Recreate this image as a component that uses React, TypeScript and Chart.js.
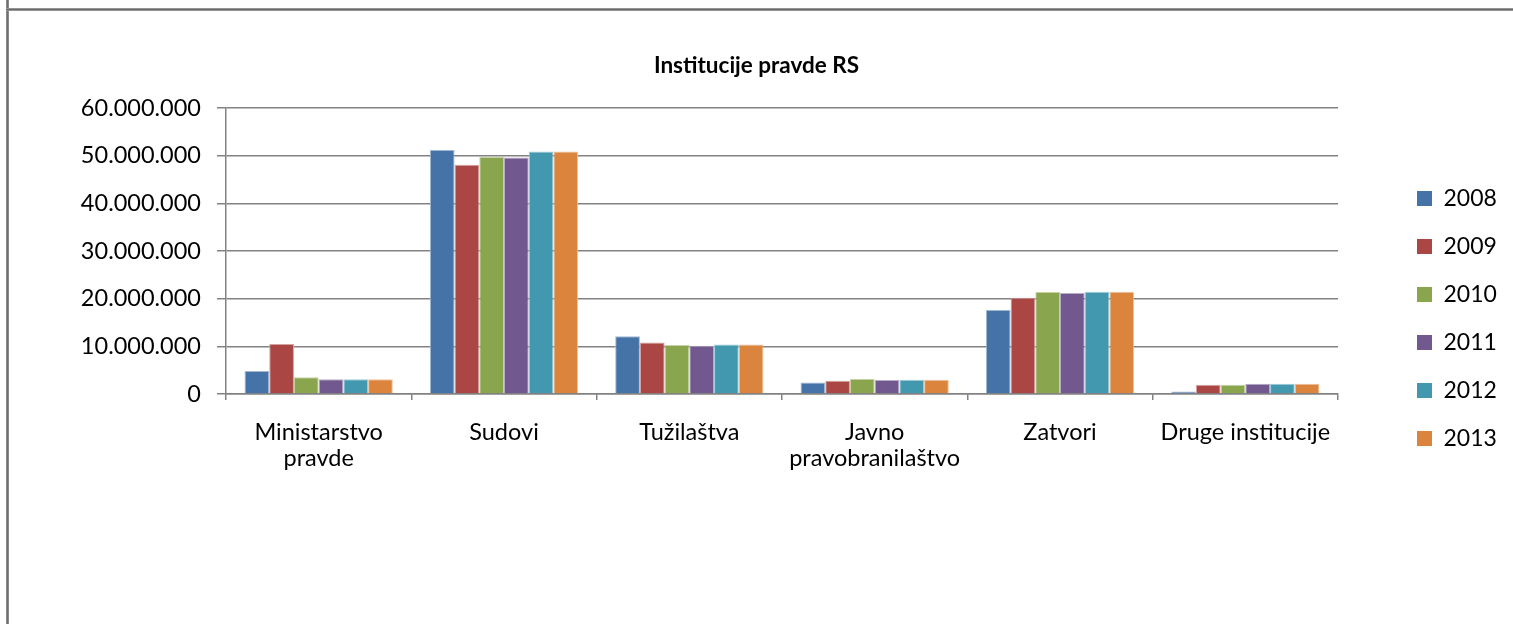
import React, { useEffect, useRef } from 'react';
import { Chart, registerables } from 'chart.js';

Chart.register(...registerables);

const TITLE = 'Institucije pravde RS';
const CATEGORIES: (string | string[])[] = [
  ['Ministarstvo', 'pravde'],
  'Sudovi',
  'Tužilaštva',
  ['Javno', 'pravobranilaštvo'],
  'Zatvori',
  'Druge institucije',
];
const YEARS = ['2008', '2009', '2010', '2011', '2012', '2013'];

const V2008 = [4800000, 51200000, 12100000, 2400000, 17600000, 500000];
const V2009 = [10500000, 48100000, 10800000, 2800000, 20200000, 1950000];
const V2010 = [3500000, 49700000, 10300000, 3150000, 21400000, 1950000];
const V2011 = [3100000, 49600000, 10100000, 2950000, 21200000, 2150000];
const V2012 = [3100000, 50900000, 10400000, 3000000, 21450000, 2150000];
const V2013 = [3100000, 50900000, 10400000, 3000000, 21450000, 2150000];
const SERIES = [V2008, V2009, V2010, V2011, V2012, V2013];

const COLORS = ['#4572A7', '#AA4643', '#89A54E', '#71588F', '#4198AF', '#DB843D'];
const EDGES = ['#A2B8D3', '#D4A2A1', '#C4D2A6', '#B8ABC7', '#A0CBD7', '#EDC19E'];

const Y_MIN = 0;
const Y_MAX = 60000000;
const Y_STEP = 10000000;

const GRID = '#828282';
const FONT = 'Lato';

function fmt(v: number): string {
  return String(Math.round(v)).replace(/\B(?=(\d{3})+(?!\d))/g, '.');
}

export default function App() {
  const ref = useRef<HTMLCanvasElement | null>(null);

  useEffect(() => {
    if (!ref.current) return;
    const chart = new Chart(ref.current, {
      type: 'bar',
      data: {
        labels: CATEGORIES as any,
        datasets: YEARS.map((y, i) => ({
          label: y,
          data: SERIES[i],
          backgroundColor: COLORS[i],
          borderColor: EDGES[i],
          borderWidth: 1,
          categoryPercentage: 0.8,
          barPercentage: 1,
        })),
      },
      options: {
        responsive: false,
        animation: false,
        layout: { padding: { top: 13, bottom: 0, left: 11, right: 11 } },
        plugins: {
          title: {
            display: true,
            text: TITLE,
            color: '#000',
            font: { family: FONT, size: 22.5, weight: 'bold', lineHeight: 1.2 },
            padding: { top: 39, bottom: 29 },
          },
          legend: {
            position: 'right',
            align: 'center',
            maxWidth: 110,
            labels: {
              boxWidth: 15,
              boxHeight: 15,
              padding: 25,
              color: '#000',
              font: { family: FONT, size: 23 },
              generateLabels: (c: any) =>
                (Chart.defaults.plugins.legend.labels.generateLabels as any)(c).map((l: any) => ({
                  ...l,
                  lineWidth: 0,
                })),
            },
          },
          tooltip: { enabled: false },
        },
        scales: {
          x: {
            offset: true,
            grid: { offset: true, drawOnChartArea: false, tickLength: 6, color: GRID, lineWidth: 1.5 },
            border: { color: GRID, width: 1.5 },
            ticks: {
              color: '#000',
              font: { family: FONT, size: 23.5, lineHeight: 1.11 },
              padding: 19,
              maxRotation: 0,
              autoSkip: false,
            },
            afterFit: (s: any) => {
              s.height = 230;
            },
          },
          y: {
            min: Y_MIN,
            max: Y_MAX,
            ticks: {
              stepSize: Y_STEP,
              color: '#000',
              font: { family: FONT, size: 23.5 },
              padding: 16,
              callback: (v: any) => fmt(Number(v)),
            },
            grid: { color: GRID, lineWidth: 1.5, tickLength: 9 },
            border: { color: GRID, width: 1.5 },
            afterFit: (s: any) => {
              s.width = 215;
            },
          },
          y2: {
            position: 'right',
            display: true,
            grid: { display: false },
            ticks: { display: false },
            border: { display: false },
            afterFit: (s: any) => {
              s.width = 54;
            },
          },
        },
      } as any,
    });
    return () => chart.destroy();
  }, []);

  return (
    <div style={{ position: 'absolute', left: 0, top: 0, width: 1513, height: 624, background: '#fff', overflow: 'hidden' }}>
      <canvas ref={ref} width={1513} height={624} style={{ position: 'absolute', left: 0, top: 0, width: 1513, height: 624 }} />
      <div style={{ position: 'absolute', left: 6, top: 0, width: 3, height: 624, background: 'linear-gradient(to right, #9a9a9a, #6e6e6e, #9a9a9a)' }} />
      <div style={{ position: 'absolute', left: 6, top: 8, width: 1507, height: 3, background: 'linear-gradient(#a8a8a8, #6a6a6a, #a8a8a8)' }} />
    </div>
  );
}
